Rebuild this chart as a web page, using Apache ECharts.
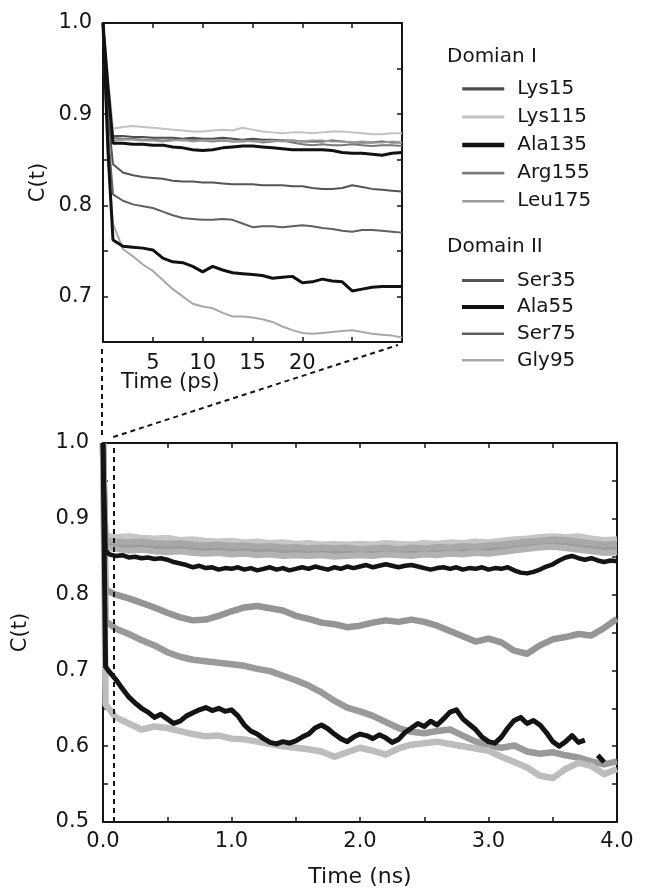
<!DOCTYPE html>
<html>
<head>
<meta charset="utf-8">
<script src="https://cdn.jsdelivr.net/npm/echarts@6/dist/echarts.min.js"></script>
<style>
  html, body { margin: 0; padding: 0; background: #ffffff; }
  #chart { width: 649px; height: 892px; }
</style>
</head>
<body>
<div id="chart"></div>
<script>
// Residues shown in each domain
const domainOne = ['Lys15', 'Lys115', 'Ala135', 'Arg155', 'Leu175'];
const domainTwo = ['Ser35', 'Ala55', 'Ser75', 'Gly95'];

// ---- short-time window (ps) ----
const tPs = [0, 0.5, 1, 2, 3, 4, 5, 6, 7, 8, 9, 10, 11, 12, 13, 14, 15, 16, 17, 18, 19, 20,
             21, 22, 23, 24, 25, 26, 27, 28, 29, 30];
const psLys15  = [1.0, 0.93, 0.876, 0.876, 0.875, 0.875, 0.874, 0.874, 0.874, 0.873, 0.874, 0.873,
                  0.873, 0.874, 0.873, 0.872, 0.873, 0.872, 0.872, 0.871, 0.871, 0.870,
                  0.870, 0.870, 0.871, 0.870, 0.869, 0.869, 0.869, 0.870, 0.869, 0.869];
const psLys115 = [1.0, 0.94, 0.884, 0.886, 0.887, 0.886, 0.885, 0.884, 0.883, 0.882, 0.881, 0.881,
                  0.882, 0.883, 0.882, 0.885, 0.883, 0.881, 0.880, 0.879, 0.880, 0.880,
                  0.879, 0.880, 0.881, 0.881, 0.880, 0.879, 0.878, 0.878, 0.879, 0.879];
const psAla135 = [1.0, 0.93, 0.868, 0.868, 0.867, 0.867, 0.866, 0.866, 0.864, 0.863, 0.861, 0.860,
                  0.861, 0.863, 0.864, 0.865, 0.865, 0.864, 0.863, 0.862, 0.861, 0.861,
                  0.861, 0.861, 0.860, 0.858, 0.857, 0.857, 0.856, 0.855, 0.857, 0.858];
const psArg155 = [1.0, 0.92, 0.874, 0.873, 0.873, 0.872, 0.872, 0.871, 0.872, 0.871, 0.872, 0.871,
                  0.870, 0.871, 0.870, 0.870, 0.871, 0.869, 0.870, 0.871, 0.869, 0.867,
                  0.866, 0.867, 0.866, 0.866, 0.867, 0.866, 0.865, 0.866, 0.866, 0.865];
const psLeu175 = [1.0, 0.92, 0.871, 0.872, 0.872, 0.871, 0.871, 0.870, 0.871, 0.872, 0.870, 0.871,
                  0.871, 0.872, 0.870, 0.871, 0.870, 0.870, 0.871, 0.870, 0.871, 0.870,
                  0.871, 0.871, 0.870, 0.870, 0.869, 0.870, 0.869, 0.869, 0.870, 0.869];
const psSer35  = [1.0, 0.90, 0.845, 0.836, 0.833, 0.831, 0.830, 0.829, 0.827, 0.826, 0.826, 0.825,
                  0.825, 0.824, 0.823, 0.823, 0.823, 0.822, 0.822, 0.822, 0.821, 0.821,
                  0.819, 0.818, 0.818, 0.819, 0.822, 0.820, 0.818, 0.817, 0.816, 0.815];
const psAla55  = [1.0, 0.86, 0.762, 0.755, 0.754, 0.753, 0.751, 0.742, 0.738, 0.737, 0.733, 0.727,
                  0.733, 0.729, 0.726, 0.725, 0.724, 0.723, 0.720, 0.721, 0.722, 0.715,
                  0.716, 0.719, 0.717, 0.716, 0.706, 0.708, 0.710, 0.711, 0.711, 0.711];
const psSer75  = [1.0, 0.88, 0.812, 0.805, 0.801, 0.799, 0.797, 0.793, 0.789, 0.786, 0.785, 0.784,
                  0.784, 0.785, 0.784, 0.780, 0.776, 0.777, 0.777, 0.776, 0.777, 0.778,
                  0.777, 0.775, 0.774, 0.772, 0.771, 0.773, 0.773, 0.772, 0.771, 0.770];
const psGly95  = [1.0, 0.85, 0.780, 0.752, 0.744, 0.735, 0.728, 0.718, 0.708, 0.700, 0.692, 0.689,
                  0.687, 0.682, 0.678, 0.678, 0.677, 0.675, 0.672, 0.667, 0.663, 0.660,
                  0.659, 0.660, 0.661, 0.662, 0.663, 0.661, 0.659, 0.658, 0.657, 0.655];

// ---- long-time window (ns) ----
const tNsCoarse = [0, 0.02,
  0.1, 0.2, 0.3, 0.4, 0.5, 0.6, 0.7, 0.8, 0.9, 1.0,
  1.1, 1.2, 1.3, 1.4, 1.5, 1.6, 1.7, 1.8, 1.9, 2.0,
  2.1, 2.2, 2.3, 2.4, 2.5, 2.6, 2.7, 2.8, 2.9, 3.0,
  3.1, 3.2, 3.3, 3.4, 3.5, 3.6, 3.7, 3.8, 3.9, 4.0];
const tNsFine = [0, 0.02,
  0.05, 0.1, 0.15, 0.2, 0.25, 0.3, 0.35, 0.4, 0.45, 0.5,
  0.55, 0.6, 0.65, 0.7, 0.75, 0.8, 0.85, 0.9, 0.95, 1.0,
  1.05, 1.1, 1.15, 1.2, 1.25, 1.3, 1.35, 1.4, 1.45, 1.5,
  1.55, 1.6, 1.65, 1.7, 1.75, 1.8, 1.85, 1.9, 1.95, 2.0,
  2.05, 2.1, 2.15, 2.2, 2.25, 2.3, 2.35, 2.4, 2.45, 2.5,
  2.55, 2.6, 2.65, 2.7, 2.75, 2.8, 2.85, 2.9, 2.95, 3.0,
  3.05, 3.1, 3.15, 3.2, 3.25, 3.3, 3.35, 3.4, 3.45, 3.5,
  3.55, 3.6, 3.65, 3.7, 3.75, 3.8, 3.85, 3.9, 3.95, 4.0];

const nsLys115 = [1.0, 0.878,
  0.876, 0.877, 0.875, 0.874, 0.875, 0.872, 0.873, 0.871, 0.870, 0.871,
  0.869, 0.870, 0.868, 0.869, 0.867, 0.868, 0.866, 0.867, 0.866, 0.867,
  0.866, 0.868, 0.867, 0.866, 0.868, 0.867, 0.869, 0.868, 0.870, 0.869,
  0.871, 0.873, 0.874, 0.876, 0.877, 0.876, 0.877, 0.874, 0.872, 0.873];
const nsLys15 = [1.0, 0.866,
  0.864, 0.865, 0.863, 0.862, 0.863, 0.861, 0.860, 0.861, 0.859, 0.860,
  0.858, 0.859, 0.857, 0.858, 0.856, 0.857, 0.856, 0.857, 0.855, 0.856,
  0.857, 0.856, 0.858, 0.857, 0.856, 0.858, 0.857, 0.859, 0.858, 0.860,
  0.859, 0.861, 0.863, 0.865, 0.867, 0.869, 0.866, 0.863, 0.861, 0.860];
const nsArg155 = [1.0, 0.872,
  0.870, 0.869, 0.870, 0.868, 0.867, 0.868, 0.866, 0.865, 0.866, 0.864,
  0.865, 0.863, 0.864, 0.862, 0.863, 0.861, 0.862, 0.861, 0.862, 0.860,
  0.861, 0.862, 0.860, 0.862, 0.861, 0.863, 0.862, 0.864, 0.863, 0.865,
  0.866, 0.868, 0.870, 0.871, 0.873, 0.872, 0.870, 0.868, 0.866, 0.867];
const nsLeu175 = [1.0, 0.862,
  0.860, 0.858, 0.859, 0.857, 0.856, 0.857, 0.855, 0.854, 0.855, 0.853,
  0.854, 0.852, 0.853, 0.851, 0.852, 0.851, 0.852, 0.850, 0.851, 0.852,
  0.851, 0.853, 0.852, 0.851, 0.853, 0.852, 0.854, 0.853, 0.855, 0.854,
  0.856, 0.858, 0.860, 0.862, 0.863, 0.861, 0.859, 0.857, 0.855, 0.856];
const nsSer35 = [1.0, 0.806,
  0.800, 0.795, 0.789, 0.783, 0.776, 0.770, 0.766, 0.767, 0.772, 0.778,
  0.783, 0.785, 0.782, 0.779, 0.772, 0.768, 0.763, 0.761, 0.757, 0.759,
  0.763, 0.766, 0.764, 0.767, 0.764, 0.759, 0.752, 0.745, 0.738, 0.742,
  0.737, 0.726, 0.722, 0.733, 0.741, 0.744, 0.748, 0.746, 0.756, 0.768];
const nsSer75 = [1.0, 0.765,
  0.755, 0.748, 0.740, 0.733, 0.724, 0.718, 0.714, 0.712, 0.710, 0.708,
  0.706, 0.702, 0.699, 0.693, 0.687, 0.680, 0.671, 0.660, 0.651, 0.646,
  0.640, 0.632, 0.624, 0.619, 0.617, 0.620, 0.622, 0.614, 0.606, 0.601,
  0.598, 0.601, 0.593, 0.590, 0.592, 0.588, 0.585, 0.580, 0.576, 0.580];
const nsGly95 = [1.0, 0.655,
  0.638, 0.630, 0.622, 0.626, 0.624, 0.620, 0.616, 0.613, 0.614, 0.610,
  0.609, 0.606, 0.603, 0.600, 0.598, 0.596, 0.593, 0.586, 0.592, 0.598,
  0.594, 0.589, 0.597, 0.602, 0.604, 0.606, 0.603, 0.600, 0.597, 0.594,
  0.586, 0.579, 0.572, 0.561, 0.558, 0.570, 0.578, 0.574, 0.563, 0.570];
const nsAla135 = [1.0, 0.858,
  0.853, 0.851, 0.852, 0.849, 0.850, 0.848, 0.849, 0.847, 0.848, 0.846,
  0.843, 0.841, 0.839, 0.836, 0.838, 0.835, 0.836, 0.833, 0.835, 0.834,
  0.836, 0.833, 0.835, 0.832, 0.834, 0.836, 0.833, 0.835, 0.832, 0.834,
  0.836, 0.834, 0.837, 0.835, 0.833, 0.836, 0.834, 0.837, 0.835, 0.837,
  0.839, 0.836, 0.838, 0.840, 0.838, 0.836, 0.838, 0.839, 0.837, 0.835,
  0.833, 0.835, 0.836, 0.834, 0.836, 0.833, 0.835, 0.834, 0.836, 0.833,
  0.835, 0.834, 0.836, 0.832, 0.829, 0.828, 0.830, 0.833, 0.837, 0.840,
  0.845, 0.849, 0.851, 0.848, 0.846, 0.848, 0.845, 0.843, 0.845, 0.844];
const nsAla55 = [1.0, 0.705,
  0.698, 0.688, 0.676, 0.665, 0.657, 0.650, 0.645, 0.638, 0.642, 0.636,
  0.630, 0.633, 0.640, 0.644, 0.648, 0.651, 0.647, 0.650, 0.646, 0.648,
  0.640, 0.628, 0.620, 0.616, 0.610, 0.605, 0.603, 0.606, 0.604, 0.607,
  0.612, 0.616, 0.624, 0.628, 0.623, 0.616, 0.610, 0.606, 0.612, 0.616,
  0.614, 0.610, 0.615, 0.611, 0.605, 0.609, 0.618, 0.624, 0.630, 0.626,
  0.633, 0.628, 0.636, 0.645, 0.648, 0.636, 0.629, 0.622, 0.612, 0.606,
  0.604, 0.612, 0.624, 0.634, 0.638, 0.630, 0.634, 0.628, 0.618, 0.606,
  0.600, 0.606, 0.614, 0.605, 0.608, null, 0.588, 0.579, null, null];

// Axis extents and labelled ticks
const psRange = [0, 30];
const psLabelled = [5, 10, 15, 20];
const psCRange = [0.65, 1.0];
const nsRange = [0, 4];
const nsCRange = [0.5, 1.0];
const zoomMarkNs = 0.08;   // right edge of the magnified window on the ns axis

// Per-residue drawing styles
const styles = {
  Lys15:  { inset: '#4d4d4d', iw: 2,   lower: '#9c9c9c', lw: 6,   key: 3.2 },
  Lys115: { inset: '#c2c2c2', iw: 2,   lower: '#c6c6c6', lw: 6,   key: 3 },
  Ala135: { inset: '#111111', iw: 3,   lower: '#141414', lw: 4.5, key: 4.5 },
  Arg155: { inset: '#7a7a7a', iw: 2,   lower: '#a8a8a8', lw: 6,   key: 2.6 },
  Leu175: { inset: '#9a9a9a', iw: 2,   lower: '#b2b2b2', lw: 6,   key: 2.6 },
  Ser35:  { inset: '#555555', iw: 2,   lower: '#959595', lw: 6.5, key: 3 },
  Ala55:  { inset: '#111111', iw: 3,   lower: '#141414', lw: 5,   key: 4 },
  Ser75:  { inset: '#606060', iw: 2,   lower: '#9a9a9a', lw: 6.5, key: 2.6 },
  Gly95:  { inset: '#a8a8a8', iw: 2,   lower: '#bdbdbd', lw: 6.5, key: 2.6 }
};

const psData = { Lys15: psLys15, Lys115: psLys115, Ala135: psAla135, Arg155: psArg155, Leu175: psLeu175,
                 Ser35: psSer35, Ala55: psAla55, Ser75: psSer75, Gly95: psGly95 };
const nsData = { Lys15: [tNsCoarse, nsLys15], Lys115: [tNsCoarse, nsLys115], Ala135: [tNsFine, nsAla135],
                 Arg155: [tNsCoarse, nsArg155], Leu175: [tNsCoarse, nsLeu175], Ser35: [tNsCoarse, nsSer35],
                 Ala55: [tNsFine, nsAla55], Ser75: [tNsCoarse, nsSer75], Gly95: [tNsCoarse, nsGly95] };

const FONT = '"DejaVu Sans", Verdana, sans-serif';
const INK = '#161616';

const pairs = (ts, vs) => ts.map((t, i) => [t, vs[i]]);
const isTenth = v => Math.abs(v * 10 - Math.round(v * 10)) < 1e-6;

function frameAxis(extra) {
  return Object.assign({
    type: 'value',
    axisLine: { show: true, onZero: false, lineStyle: { color: INK, width: 2 } },
    axisTick: { show: true, inside: true, length: 5, lineStyle: { color: INK, width: 1.5 } },
    splitLine: { show: false },
    axisLabel: { show: false },
    nameTextStyle: { fontFamily: FONT, fontSize: 21, color: INK }
  }, extra);
}
const labelStyle = (margin, formatter) => ({
  show: true, margin, formatter, fontFamily: FONT, fontSize: 21, color: INK
});

const allNames = domainOne.concat(domainTwo);
const blacks = ['Ala135', 'Ala55'];
const drawOrder = allNames.filter(n => !blacks.includes(n)).concat(blacks);

const series = [];
drawOrder.forEach(name => {
  series.push({
    name, type: 'line', xAxisIndex: 0, yAxisIndex: 0,
    data: pairs(tPs, psData[name]),
    symbol: 'none', showSymbol: false, animation: false,
    lineStyle: { color: styles[name].inset, width: styles[name].iw },
    itemStyle: { color: styles[name].inset },
    z: blacks.includes(name) ? 3 : 2
  });
});
drawOrder.forEach((name, k) => {
  const [ts, vs] = nsData[name];
  const s = {
    name, type: 'line', xAxisIndex: 2, yAxisIndex: 2,
    data: pairs(ts, vs),
    symbol: 'none', showSymbol: false, animation: false, connectNulls: false,
    lineStyle: { color: styles[name].lower, width: styles[name].lw, join: 'round' },
    itemStyle: { color: styles[name].lower },
    z: blacks.includes(name) ? 3 : 2
  };
  if (k === 0) {
    s.markLine = {
      silent: true, symbol: 'none', animation: false,
      label: { show: false },
      lineStyle: { color: INK, width: 2, type: [5, 4] },
      data: [{ xAxis: zoomMarkNs }]
    };
  }
  series.push(s);
});

// Legend keys: a plain line sample, no marker
const legendItem = name => ({
  name,
  lineStyle: { width: styles[name].key, color: styles[name].inset },
  itemStyle: { opacity: 0, borderWidth: 0 }
});
const legendBase = {
  orient: 'vertical', left: 455, itemWidth: 42, itemHeight: 19, padding: 5,
  selectedMode: false,
  textStyle: { fontFamily: FONT, fontSize: 20, lineHeight: 19, color: INK, padding: [0, 0, 0, 8] }
};

const chart = echarts.init(document.getElementById('chart'), null, { renderer: 'canvas' });

chart.setOption({
  backgroundColor: '#ffffff',
  animation: false,
  grid: [
    { left: 103, top: 23, width: 299, height: 319 },
    { left: 103, top: 443, width: 514, height: 379 }
  ],
  xAxis: [
    frameAxis({ gridIndex: 0, position: 'bottom', min: psRange[0], max: psRange[1], interval: 5,
      axisLabel: labelStyle(11, v => psLabelled.includes(v) ? String(v) : '') }),
    frameAxis({ gridIndex: 0, position: 'top', min: psRange[0], max: psRange[1], interval: 5 }),
    frameAxis({ gridIndex: 1, position: 'bottom', min: nsRange[0], max: nsRange[1], interval: 0.5,
      axisLabel: labelStyle(9, v => Number.isInteger(v) ? v.toFixed(1) : ''),
      name: 'Time (ns)', nameLocation: 'middle', nameGap: 44,
      nameTextStyle: { fontFamily: FONT, fontSize: 22, color: INK } }),
    frameAxis({ gridIndex: 1, position: 'top', min: nsRange[0], max: nsRange[1], interval: 0.5 })
  ],
  yAxis: [
    frameAxis({ gridIndex: 0, position: 'left', min: psCRange[0], max: psCRange[1], interval: 0.05,
      axisLabel: labelStyle(11, v => (isTenth(v) && v > 0.66) ? v.toFixed(1) : ''),
      name: 'C(t)', nameLocation: 'middle', nameGap: 54 }),
    frameAxis({ gridIndex: 0, position: 'right', min: psCRange[0], max: psCRange[1], interval: 0.05 }),
    frameAxis({ gridIndex: 1, position: 'left', min: nsCRange[0], max: nsCRange[1], interval: 0.05,
      axisLabel: labelStyle(14, v => isTenth(v) ? v.toFixed(1) : ''),
      name: 'C(t)', nameLocation: 'middle', nameGap: 72 }),
    frameAxis({ gridIndex: 1, position: 'right', min: nsCRange[0], max: nsCRange[1], interval: 0.05 })
  ],
  legend: [
    Object.assign({}, legendBase, { top: 73.8, itemGap: 8.1, data: domainOne.map(legendItem) }),
    Object.assign({}, legendBase, { top: 265.5, itemGap: 6.6, data: domainTwo.map(legendItem) })
  ],
  series
});

// Texts and the dashed guides linking the magnified window to the long-time axes
function guides() {
  const insetBL = chart.convertToPixel({ xAxisIndex: 0, yAxisIndex: 0 }, [psRange[0], psCRange[0]]);
  const insetBR = chart.convertToPixel({ xAxisIndex: 0, yAxisIndex: 0 }, [psRange[1], psCRange[0]]);
  const lowerTL = chart.convertToPixel({ xAxisIndex: 2, yAxisIndex: 2 }, [nsRange[0], nsCRange[1]]);
  const lowerMark = chart.convertToPixel({ xAxisIndex: 2, yAxisIndex: 2 }, [zoomMarkNs, nsCRange[1]]);
  const dash = { stroke: INK, lineWidth: 2, lineDash: [5, 4], fill: null };
  const txt = (id, text, x, y, size) => ({
    id, type: 'text', silent: true, z: 10,
    style: { text, x, y, font: size + 'px ' + FONT, fill: INK, align: 'left', verticalAlign: 'middle' }
  });
  chart.setOption({
    graphic: [
      { id: 'g-vert', type: 'line', silent: true,
        shape: { x1: insetBL[0] - 1, y1: insetBL[1] + 7, x2: insetBL[0] - 1, y2: lowerTL[1] - 6 },
        style: dash },
      { id: 'g-diag', type: 'line', silent: true,
        shape: { x1: lowerMark[0], y1: lowerTL[1] - 6, x2: insetBR[0] - 4, y2: insetBR[1] + 3 },
        style: dash },
      txt('t-ps', 'Time (ps)', insetBL[0] + 18, insetBL[1] + 41, 21),
      txt('t-d1', 'Domian I', 447, 57, 20),
      txt('t-d2', 'Domain II', 447, 247, 20)
    ]
  });
}
guides();
</script>
</body>
</html>
